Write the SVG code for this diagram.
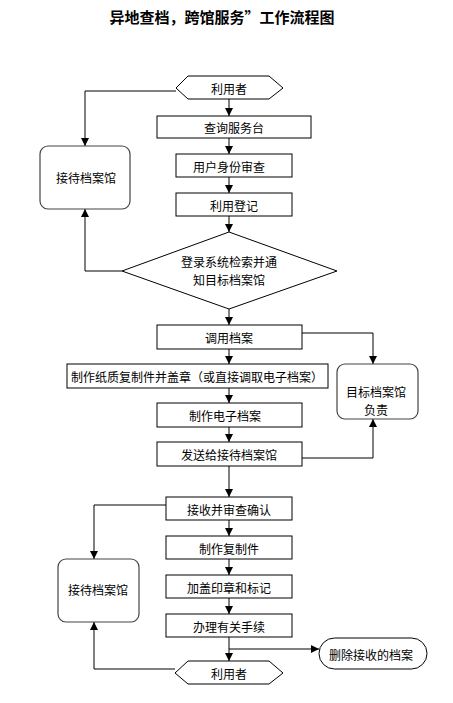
<svg xmlns="http://www.w3.org/2000/svg" width="453" height="703" viewBox="0 0 453 703">
<style>
.b{fill:#fff;stroke:#000;stroke-width:1}
.r{fill:#fff;stroke:#444;stroke-width:1.2}
.t{font-family:"Noto Sans CJK SC","Noto Sans",sans-serif;font-size:12px;fill:#000;text-anchor:middle;dominant-baseline:central}
.c{fill:none;stroke:#000;stroke-width:1}
</style>
<defs>
<marker id="a" viewBox="0 0 8 8" refX="8" refY="4" markerWidth="8" markerHeight="8" markerUnits="userSpaceOnUse" orient="auto">
<path d="M0,0 L8,4 L0,8 z" fill="#000"/>
</marker>
</defs>
<rect width="453" height="703" fill="#fff"/>
<text x="222" y="16" class="t" style="font-size:15px;font-weight:bold">异地查档，跨馆服务”工作流程图</text>

<g id="connectors">
<path class="c" d="M229,99 V116" marker-end="url(#a)"/>
<path class="c" d="M229,138 V154" marker-end="url(#a)"/>
<path class="c" d="M229,177 V193" marker-end="url(#a)"/>
<path class="c" d="M229,216 V232" marker-end="url(#a)"/>
<path class="c" d="M176,91 H85 V146" marker-end="url(#a)"/>
<path class="c" d="M122,271 H85 V209" marker-end="url(#a)"/>
<path class="c" d="M229,309 V325" marker-end="url(#a)"/>
<path class="c" d="M229,349 V364" marker-end="url(#a)"/>
<path class="c" d="M229,388 V403" marker-end="url(#a)"/>
<path class="c" d="M229,427 V442" marker-end="url(#a)"/>
<path class="c" d="M302,333 H373 V364" marker-end="url(#a)"/>
<path class="c" d="M302,458 H373 V419" marker-end="url(#a)"/>
<path class="c" d="M229,466 V497" marker-end="url(#a)"/>
<path class="c" d="M229,520 V536" marker-end="url(#a)"/>
<path class="c" d="M229,559 V575" marker-end="url(#a)"/>
<path class="c" d="M229,598 V614" marker-end="url(#a)"/>
<path class="c" d="M229,637 V661" marker-end="url(#a)"/>
<path class="c" d="M229,649 H319" marker-end="url(#a)"/>
<path class="c" d="M166,505 H94 V559" marker-end="url(#a)"/>
<path class="c" d="M175,669 H94 V622" marker-end="url(#a)"/>
</g>

<g id="user1">
<polygon class="b" points="176,88 188,76 269,76 283,88 269,99 188,99"/>
<text x="229" y="88" class="t">利用者</text>
</g>
<g id="query">
<rect class="b" x="157" y="116" width="154" height="22"/>
<text x="234" y="127" class="t">查询服务台</text>
</g>
<g id="identity">
<rect class="b" x="176" y="154" width="116" height="23"/>
<text x="229" y="166" class="t">用户身份审查</text>
</g>
<g id="register">
<rect class="b" x="176" y="193" width="116" height="23"/>
<text x="234" y="205" class="t">利用登记</text>
</g>
<g id="search">
<polygon class="b" points="229,232 337,271 229,309 122,271"/>
<text x="229" y="261" class="t">登录系统检索并通</text>
<text x="229" y="279" class="t">知目标档案馆</text>
</g>
<g id="reception1">
<rect class="r" x="40" y="146" width="90" height="63" rx="8"/>
<text x="86" y="177" class="t">接待档案馆</text>
</g>
<g id="retrieve">
<rect class="b" x="157" y="325" width="145" height="24"/>
<text x="229" y="337" class="t">调用档案</text>
</g>
<g id="paper">
<rect class="b" x="67" y="364" width="261" height="24"/>
<text x="197" y="376" class="t">制作纸质复制件并盖章（或直接调取电子档案）</text>
</g>
<g id="electronic">
<rect class="b" x="157" y="403" width="145" height="24"/>
<text x="225" y="415" class="t">制作电子档案</text>
</g>
<g id="send">
<rect class="b" x="157" y="442" width="145" height="24"/>
<text x="229" y="454" class="t">发送给接待档案馆</text>
</g>
<g id="target">
<rect class="r" x="337" y="364" width="81" height="55" rx="8"/>
<text x="376" y="391" class="t">目标档案馆</text>
<text x="376" y="409" class="t">负责</text>
</g>
<g id="receive">
<rect class="b" x="166" y="497" width="126" height="23"/>
<text x="229" y="509" class="t">接收并审查确认</text>
</g>
<g id="copy">
<rect class="b" x="166" y="536" width="126" height="23"/>
<text x="229" y="548" class="t">制作复制件</text>
</g>
<g id="stamp">
<rect class="b" x="166" y="575" width="126" height="23"/>
<text x="229" y="587" class="t">加盖印章和标记</text>
</g>
<g id="procedure">
<rect class="b" x="166" y="614" width="126" height="23"/>
<text x="229" y="626" class="t">办理有关手续</text>
</g>
<g id="delete">
<rect class="b" x="319" y="638" width="108" height="31" rx="15.5"/>
<text x="371" y="654" class="t">删除接收的档案</text>
</g>
<g id="user2">
<polygon class="b" points="175,673 188,661 269,661 283,673 269,684 188,684"/>
<text x="229" y="673" class="t">利用者</text>
</g>
<g id="reception2">
<rect class="r" x="58" y="559" width="81" height="63" rx="8"/>
<text x="98" y="589" class="t">接待档案馆</text>
</g>
</svg>
